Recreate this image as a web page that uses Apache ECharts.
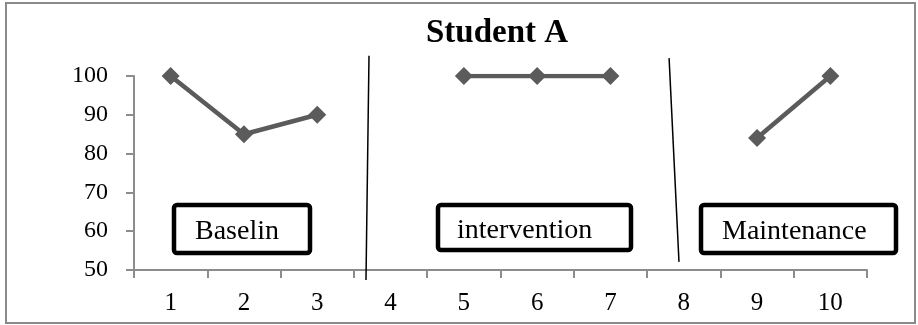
<!DOCTYPE html>
<html>
<head>
<meta charset="utf-8">
<script src="https://cdn.jsdelivr.net/npm/echarts@6/dist/echarts.min.js"></script>
<style>
  html, body { margin: 0; padding: 0; background: #fff; }
  #chart { width: 918px; height: 325px; }
</style>
</head>
<body>
<div id="chart"></div>
<script>
// Session numbers along the bottom
var sessions = ['1', '2', '3', '4', '5', '6', '7', '8', '9', '10'];
// Scores per phase (null where the phase has no session)
var baseline     = [100, 85, 90, null, null, null, null, null, null, null];
var intervention = [null, null, null, null, 100, 100, 100, null, null, null];
var maintenance  = [null, null, null, null, null, null, null, null, 84, 100];
// Phase-change lines, in [session position, score] units
var phaseLine1 = [[3.206, 105.2], [3.165, 47.4]];
var phaseLine2 = [[7.30, 104.6], [7.435, 52.1]];
var phaseNames = ['Baselin', 'intervention', 'Maintenance'];

var serif = '"Liberation Serif", "DejaVu Serif", serif';
var markColor = '#5b5b5b';

function scoreSeries(data) {
  return {
    type: 'line',
    data: data,
    xAxisIndex: 0,
    yAxisIndex: 0,
    symbol: 'diamond',
    symbolSize: 18,
    showSymbol: true,
    connectNulls: false,
    lineStyle: { color: markColor, width: 4.5 },
    itemStyle: { color: markColor },
    emphasis: { disabled: true },
    silent: true,
    z: 3
  };
}

function phaseSeries(pts) {
  return {
    type: 'line',
    data: pts,
    xAxisIndex: 1,
    yAxisIndex: 0,
    symbol: 'none',
    clip: false,
    lineStyle: { color: '#000', width: 1.5 },
    silent: true,
    z: 4
  };
}

function labelBox(x, y, w, h, text, textX) {
  return {
    type: 'group',
    children: [
      {
        type: 'rect',
        shape: { x: x, y: y, width: w, height: h, r: 3 },
        style: { fill: '#fff', stroke: '#000', lineWidth: 4.5 }
      },
      {
        type: 'text',
        x: textX,
        y: y + h / 2 + 3,
        style: {
          text: text,
          font: '28px ' + serif,
          fill: '#000',
          verticalAlign: 'middle'
        }
      }
    ]
  };
}

var chart = echarts.init(document.getElementById('chart'), null, { renderer: 'canvas' });
chart.setOption({
  animation: false,
  backgroundColor: '#fff',
  title: {
    text: 'Student A',
    left: 492,
    textAlign: 'center',
    top: 12,
    textStyle: { fontFamily: serif, fontWeight: 'bold', fontSize: 33, color: '#000' }
  },
  grid: { left: 134, right: 51, top: 76, bottom: 55 },
  xAxis: [
    {
      type: 'category',
      data: sessions,
      boundaryGap: true,
      axisLine: { lineStyle: { color: '#8c8c8c', width: 2 } },
      axisTick: { show: true, length: 8, inside: false, lineStyle: { color: '#8c8c8c', width: 2 } },
      axisLabel: { color: '#000', fontFamily: serif, fontSize: 25, margin: 21 },
      splitLine: { show: false }
    },
    {
      type: 'value',
      min: 0,
      max: 10,
      show: false
    }
  ],
  yAxis: {
    type: 'value',
    min: 50,
    max: 100,
    interval: 10,
    axisLine: { show: true, lineStyle: { color: '#8c8c8c', width: 2 } },
    axisTick: { show: true, length: 8, lineStyle: { color: '#8c8c8c', width: 2 } },
    axisLabel: { color: '#000', fontFamily: serif, fontSize: 24, margin: 26 },
    splitLine: { show: false }
  },
  graphic: [
    {
      type: 'rect',
      shape: { x: 6, y: 3, width: 909, height: 320 },
      style: { fill: 'none', stroke: '#8a8a8a', lineWidth: 2 },
      silent: true,
      z: 0
    },
    labelBox(174, 205, 136, 48, phaseNames[0], 195),
    labelBox(438, 205, 193, 45, phaseNames[1], 457),
    labelBox(701, 205, 195, 48, phaseNames[2], 722)
  ],
  series: [
    scoreSeries(baseline),
    scoreSeries(intervention),
    scoreSeries(maintenance),
    phaseSeries(phaseLine1),
    phaseSeries(phaseLine2)
  ]
});
</script>
</body>
</html>
